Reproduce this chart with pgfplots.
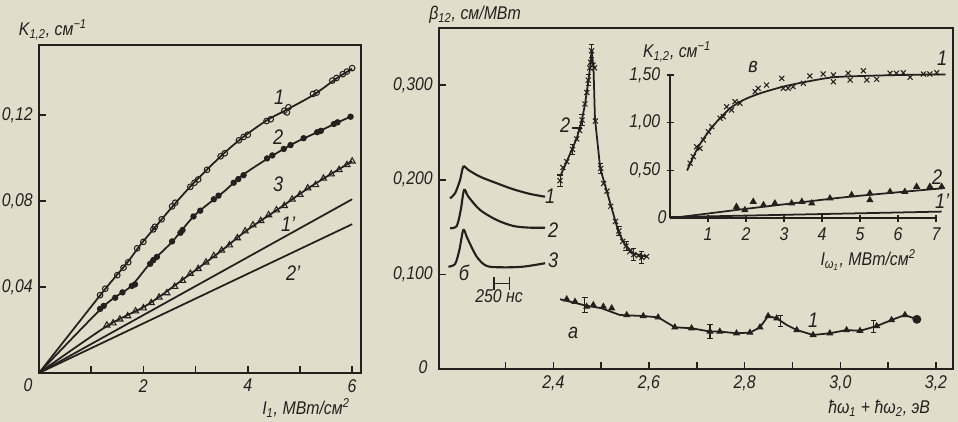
\documentclass[border=0pt]{standalone}
\usepackage{fontspec}
\setmainfont{Liberation Sans}[FakeStretch=0.86]
\usepackage{pgfplots}
\pgfplotsset{compat=1.18}
\definecolor{paper}{RGB}{226,220,202}
\definecolor{ink}{RGB}{36,32,30}
\newcommand{\fs}{\fontsize{10.5}{12}\selectfont\itshape}
\newcommand{\fl}{\fontsize{12}{14}\selectfont\itshape}
\pgfplotsset{
  base/.style={scale only axis, clip=false,
    axis line style={ink,line width=1.1pt},
    tick style={ink,line width=0.9pt},
    tick align=inside, major tick length=0.14cm, minor tick length=0.14cm,
    xtick pos=left, ytick pos=left,
    ticklabel style={font=\fs,text=ink}},
  cur/.style={ink,line width=1pt,mark=none},
  pts/.style={ink,only marks,mark size=#1,mark options={line width=0.6pt,ink}},
  ebar/.style={draw=none,mark=none,forget plot,error bars/.cd,y dir=both,y explicit,
    error bar style={draw=ink,line width=0.6pt},
    error mark options={rotate=90,mark size=1.5pt,draw=ink,line width=0.6pt}},
  every non boxed x axis/.append style={x axis line style=-},
  every non boxed y axis/.append style={y axis line style=-},
}
\begin{document}
\begin{tikzpicture}
\useasboundingbox (0,0) rectangle (19.16cm,8.44cm);
\fill[paper] (0,0) rectangle (19.16cm,8.44cm);

% ---- left panel: K12 vs I1
\begin{axis}[base, at={(0.78cm,0.98cm)}, anchor=south west,
  width=6.44cm, height=6.56cm,
  xmin=0, xmax=6.17, ymin=0, ymax=0.15256,
  xtick={2,4,6}, xticklabels={2,4,6}, minor xtick={1,3,5},
  ytick={0.04,0.08,0.12}, yticklabels={{0,04},{0,08},{0,12}}]
\addplot[cur,smooth] coordinates {(0,0)(1.2,0.037)(1.68,0.051)(1.94,0.0595)(2.26,0.0688)(2.61,0.0789)(2.99,0.089)(3.5,0.1012)(3.9,0.1095)(4.37,0.1176)(4.75,0.1225)(5.27,0.1295)(5.7,0.137)(6.0,0.1415)};
\addplot[pts=1.6pt,mark=o] coordinates {(1.17,0.0362)(1.27,0.0392)(1.50,0.0455)(1.62,0.0490)(1.71,0.0515)(1.88,0.0580)(2.00,0.0610)(2.19,0.0668)(2.22,0.0680)(2.35,0.0715)(2.55,0.0775)(2.61,0.0792)(2.90,0.0866)(2.98,0.0885)(3.05,0.0900)(3.22,0.0945)(3.48,0.1008)(3.56,0.1022)(3.83,0.1082)(3.92,0.1098)(4.00,0.1108)(4.36,0.1172)(4.44,0.1180)(4.70,0.1220)(4.78,0.1236)(4.75,0.1212)(5.25,0.1298)(5.32,0.1304)(5.62,0.1360)(5.70,0.1372)(5.82,0.1390)(5.90,0.1402)(6.00,0.1418)};
\addplot[cur,smooth] coordinates {(0,0)(1.23,0.0308)(1.75,0.0401)(2.13,0.051)(2.55,0.061)(2.99,0.0735)(3.54,0.0843)(3.9,0.092)(4.4,0.1)(4.88,0.1068)(5.35,0.1122)(5.7,0.1163)(6.0,0.1195)};
\addplot[pts=1.5pt,mark=*] coordinates {(1.17,0.0298)(1.24,0.0312)(1.46,0.0350)(1.60,0.0375)(1.78,0.0405)(1.84,0.0412)(2.13,0.0508)(2.19,0.0525)(2.26,0.0540)(2.55,0.0612)(2.71,0.0652)(2.75,0.0665)(2.96,0.0728)(3.09,0.0755)(3.35,0.0808)(3.44,0.0825)(3.73,0.0885)(3.82,0.0902)(3.92,0.0920)(4.37,0.0998)(4.47,0.1012)(4.69,0.1042)(4.82,0.1060)(5.07,0.1092)(5.33,0.1120)(5.40,0.1126)(5.65,0.1158)(5.72,0.1166)(5.97,0.1192)};
\addplot[cur,smooth] coordinates {(0,0)(1.3,0.0218)(2.07,0.0316)(2.83,0.0448)(3.47,0.0564)(3.99,0.0665)(4.6,0.0765)(5.2,0.0866)(6.0,0.0985)};
\addplot[pts=2pt,mark=triangle] coordinates {(1.30,0.0222)(1.42,0.0232)(1.55,0.0250)(1.70,0.0265)(1.85,0.0288)(2.00,0.0302)(2.15,0.0326)(2.30,0.0352)(2.45,0.0372)(2.60,0.0402)(2.75,0.0430)(2.90,0.0462)(3.05,0.0485)(3.20,0.0515)(3.35,0.0545)(3.50,0.0570)(3.65,0.0595)(3.80,0.0628)(3.95,0.0660)(4.10,0.0688)(4.25,0.0708)(4.40,0.0735)(4.55,0.0758)(4.70,0.0778)(4.85,0.0808)(5.00,0.0830)(5.15,0.0860)(5.30,0.0875)(5.45,0.0905)(5.60,0.0925)(5.75,0.0945)(5.90,0.0968)(6.00,0.0985)};
\addplot[cur] coordinates {(0,0)(6.0,0.0808)};
\addplot[cur] coordinates {(0,0)(6.0,0.0692)};
\end{axis}

% ---- right panel: beta12 vs photon energy
\begin{axis}[base, at={(8.78cm,1.054cm)}, anchor=south west,
  width=10.28cm, height=6.826cm,
  xmin=2.161, xmax=3.2355, ymin=0, ymax=0.3601,
  xtick={2.4,2.6,2.8,3.0,3.2}, xticklabels={{2,4},{2,6},{2,8},{3,0},{3,2}},
  minor xtick={2.3,2.5,2.7,2.9,3.1},
  ytick={0.1,0.2,0.3}, yticklabels={{0,100},{0,200},{0,300}}]
% curve 2 (peak)
\addplot[cur] coordinates {(2.414,0.2032)(2.428,0.2191)(2.449,0.2437)(2.459,0.2613)(2.466,0.2789)(2.473,0.3035)(2.477,0.3193)(2.480,0.3369)(2.484,0.3176)(2.487,0.2648)(2.498,0.2121)(2.512,0.1874)(2.522,0.1699)(2.536,0.1452)(2.550,0.1312)(2.567,0.1224)(2.595,0.1188)};
\addplot[pts=2pt,mark=x] coordinates {(2.414,0.199)(2.420,0.213)(2.428,0.219)(2.440,0.232)(2.449,0.243)(2.455,0.252)(2.460,0.263)(2.466,0.280)(2.470,0.292)(2.473,0.305)(2.476,0.318)(2.478,0.324)(2.480,0.336)(2.483,0.321)(2.486,0.318)(2.488,0.262)(2.499,0.212)(2.505,0.196)(2.512,0.188)(2.520,0.172)(2.530,0.156)(2.537,0.146)(2.545,0.135)(2.552,0.130)(2.560,0.124)(2.568,0.121)(2.578,0.120)(2.585,0.118)(2.595,0.119)};
\addplot[ebar] coordinates {(2.414,0.199) +- (0,0.006) (2.440,0.232) +- (0,0.005) (2.460,0.263) +- (0,0.006) (2.473,0.305) +- (0,0.006) (2.480,0.336) +- (0,0.007) (2.499,0.212) +- (0,0.005) (2.537,0.146) +- (0,0.005) (2.552,0.130) +- (0,0.005) (2.568,0.121) +- (0,0.006) (2.585,0.118) +- (0,0.006)};
% curve 1 (a)
\addplot[cur] coordinates {(2.414,0.0739)(2.47,0.067)(2.5,0.0645)(2.539,0.0573)(2.588,0.0562)(2.619,0.0548)(2.654,0.0443)(2.689,0.0433)(2.7275,0.0398)(2.748,0.0398)(2.783,0.038)(2.811,0.0387)(2.832,0.0443)(2.849,0.0562)(2.867,0.0538)(2.888,0.0467)(2.909,0.0414)(2.943,0.0362)(2.978,0.038)(3.013,0.0414)(3.041,0.0406)(3.076,0.0456)(3.107,0.052)(3.135,0.0573)(3.16,0.0527)};
\addplot[pts=1.8pt,mark=triangle*] coordinates {(2.428,0.0739)(2.4454,0.0713)(2.4698,0.0661)(2.4836,0.0678)(2.5045,0.0661)(2.522,0.0644)(2.5534,0.0573)(2.588,0.0562)(2.619,0.0548)(2.654,0.0443)(2.689,0.0433)(2.7275,0.0398)(2.748,0.0398)(2.783,0.038)(2.811,0.0387)(2.832,0.0443)(2.849,0.0562)(2.867,0.0538)(2.909,0.0414)(2.943,0.0362)(2.978,0.038)(3.013,0.0414)(3.041,0.0406)(3.076,0.0456)(3.107,0.052)(3.135,0.0573)};
\addplot[pts=2.2pt,mark=*] coordinates {(3.16,0.0527)};
\addplot[ebar] coordinates {(2.466,0.0678) +- (0,0.008) (2.7275,0.0398) +- (0,0.007) (2.875,0.051) +- (0,0.006) (3.07,0.045) +- (0,0.006)};
% inset b: pulse shapes
\addplot[ink,line width=1.2pt,smooth] coordinates {(2.1841,0.1804)(2.1946,0.1857)(2.2050,0.1997)(2.2119,0.2138)(2.2224,0.2103)(2.2468,0.2032)(2.2817,0.1963)(2.3164,0.1899)(2.3513,0.1850)(2.3826,0.1821)};
\addplot[ink,line width=1.2pt,smooth] coordinates {(2.1841,0.1488)(2.1981,0.1512)(2.2065,0.1681)(2.2134,0.1892)(2.2224,0.1821)(2.2468,0.1681)(2.2817,0.1575)(2.3164,0.1512)(2.3513,0.1494)(2.3826,0.1494)};
\addplot[ink,line width=1.2pt,smooth] coordinates {(2.1806,0.1083)(2.1946,0.1111)(2.2036,0.1259)(2.2119,0.1470)(2.2203,0.1382)(2.2399,0.1188)(2.2608,0.1090)(2.2955,0.1076)(2.3373,0.1083)(2.3826,0.1119)};
\addplot[ink,line width=0.8pt,|-|] coordinates {(2.2744,0.0907)(2.3096,0.0907)};
\addplot[ink,line width=0.8pt] coordinates {(2.439,0.2546)(2.459,0.2546)};
\end{axis}

% ---- inset v: K12 vs I_omega1
\begin{axis}[base, at={(13.4cm,4.074cm)}, anchor=south west,
  width=5.32cm, height=2.868cm, axis lines=left, axis line style={-},
  xmin=0, xmax=7, ymin=0, ymax=1.5,
  xtick={1,2,3,4,5,6,7}, xticklabels={1,2,3,4,5,6,7},
  ytick={0.5,1,1.5}, yticklabels={{0,50},{1,00},{1,50}}]
\addplot[cur,smooth] coordinates {(0.45,0.50)(0.70,0.714)(0.92,0.854)(1.23,1.01)(1.58,1.15)(1.93,1.237)(2.37,1.307)(2.98,1.377)(3.6,1.429)(4.3,1.475)(5.18,1.49)(6.2,1.50)(7.25,1.505)};
\addplot[pts=2pt,mark=x] coordinates {(0.53,0.575)(0.61,0.645)(0.70,0.749)(0.79,0.732)(0.88,0.819)(1.01,0.906)(1.10,0.958)(1.32,1.046)(1.40,1.063)(1.49,1.167)(1.62,1.133)(1.71,1.22)(1.84,1.203)(2.24,1.324)(2.32,1.36)(2.54,1.394)(2.94,1.464)(2.98,1.36)(3.11,1.36)(3.24,1.377)(3.51,1.412)(3.68,1.489)(4.03,1.509)(4.30,1.499)(4.30,1.429)(4.69,1.517)(4.74,1.447)(5.09,1.544)(5.18,1.447)(5.44,1.454)(5.79,1.517)(5.96,1.517)(6.14,1.523)(6.32,1.475)(6.67,1.509)(6.84,1.509)(7.02,1.523)};
\addplot[cur,smooth] coordinates {(0,0)(1.75,0.087)(3.24,0.157)(4.74,0.226)(7.18,0.314)};
\addplot[pts=1.8pt,mark=triangle*] coordinates {(1.75,0.121)(1.97,0.087)(2.19,0.174)(2.46,0.139)(2.76,0.157)(3.2,0.157)(3.47,0.174)(3.73,0.157)(4.21,0.209)(4.78,0.244)(5.26,0.262)(5.26,0.191)(5.79,0.278)(6.18,0.278)(6.49,0.331)(6.84,0.331)(7.15,0.331)};
\addplot[cur] coordinates {(0,0.012)(7.15,0.07)};
\end{axis}

% ---- text (coordinates in reference pixels)
\begin{scope}[x=0.02cm,y=-0.02cm,yshift=8.44cm,every node/.style={text=ink,font=\fs,inner sep=0pt}]
\node at (53,30) {K\textsubscript{1,2}, см\textsuperscript{−1}};
\node at (28,385) {0};
\node at (306,408) {I\textsubscript{1}, МВт/см\textsuperscript{2}};
\node[font=\fl] at (279,97) {1};
\node[font=\fl] at (278,137) {2};
\node[font=\fl] at (278,184) {3};
\node[font=\fl] at (288,224) {1'};
\node[font=\fl] at (293,273) {2'};
\node at (475,15) {β\textsubscript{12}, см/МВт};
\node at (423,367) {0};
\node at (879,408) {ħω\textsubscript{1} + ħω\textsubscript{2}, эВ};
\node[font=\fl] at (565,125) {2};
\node[font=\fl] at (573,333) {а};
\node[font=\fl] at (813,320) {1};
\node[font=\fl] at (464,273) {б};
\node at (499,296) {250 нс};
\node[font=\fl] at (550,196) {1};
\node[font=\fl] at (553,230) {2};
\node[font=\fl] at (553,260) {3};
\node at (677,52) {K\textsubscript{1,2}, см\textsuperscript{−1}};
\node[font=\fl] at (753,67) {в};
\node[font=\fl] at (942,58) {1};
\node[font=\fl] at (937,177) {2};
\node[font=\fl] at (942,201) {1'};
\node at (868,260) {I\textsubscript{ω\textsubscript{1}}, МВт/см\textsuperscript{2}};
\node at (662,217) {0};
\end{scope}
\end{tikzpicture}
\end{document}
